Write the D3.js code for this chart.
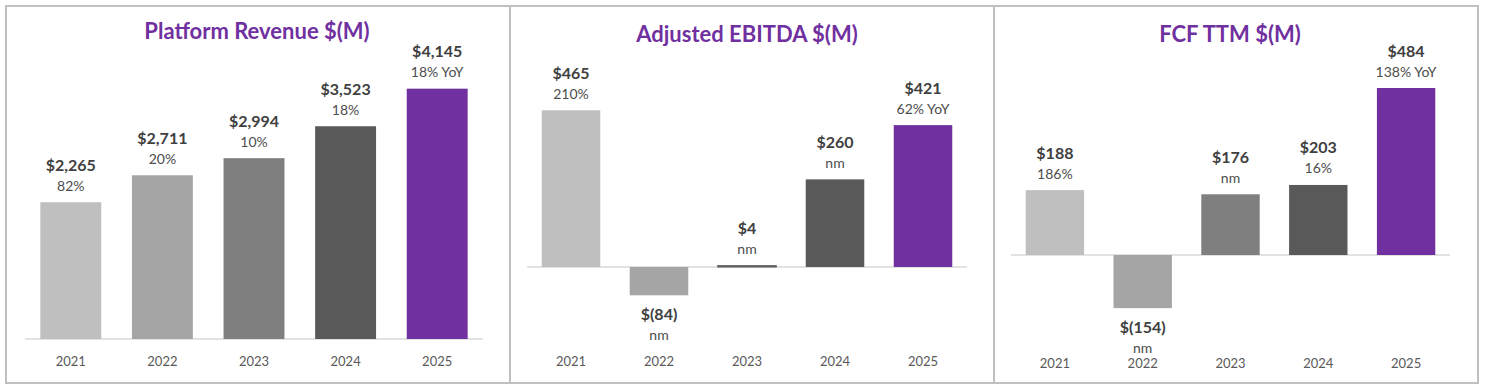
<!DOCTYPE html>
<html>
<head>
<meta charset="utf-8">
<script src="https://cdn.jsdelivr.net/npm/d3@7"></script>
<style>
  html, body { margin: 0; padding: 0; background: #fff; }
  svg { display: block; }
  text { font-family: Lato, "Open Sans", sans-serif; }
</style>
</head>
<body>
<svg id="chart" width="1485" height="392"></svg>
<script>
// ---- data ----
const years = ["2021", "2022", "2023", "2024", "2025"];
const titles = ["Platform Revenue $(M)", "Adjusted EBITDA $(M)", "FCF TTM $(M)"];
const revenueValues = [2265, 2711, 2994, 3523, 4145];
const revenueGrowth = ["82%", "20%", "10%", "18%", "18% YoY"];
const ebitdaValues = [465, -84, 4, 260, 421];
const ebitdaGrowth = ["210%", "nm", "nm", "nm", "62% YoY"];
const fcfValues = [188, -154, 176, 203, 484];
const fcfGrowth = ["186%", "nm", "nm", "16%", "138% YoY"];
const barColors = ["#BFBFBF", "#A5A5A5", "#7F7F7F", "#595959", "#7030A0"];

// ---- layout ----
const panels = [
  { title: titles[0], values: revenueValues, growth: revenueGrowth,
    titleX: 257, titleY: 30, xRange: [25, 483], domain: [0, 4600], yRange: [339, 61.2], yearY: 361 },
  { title: titles[1], values: ebitdaValues, growth: ebitdaGrowth,
    titleX: 747, titleY: 33, xRange: [527, 967], domain: [-100, 500], yRange: [300.7, 98.5], yearY: 361 },
  { title: titles[2], values: fcfValues, growth: fcfGrowth,
    titleX: 1230, titleY: 33, xRange: [1011, 1450], domain: [-200, 550], yRange: [324, 65.25], yearY: 363 }
];

const svg = d3.select("#chart");

// frame
svg.append("rect").attr("x", 6).attr("y", 6).attr("width", 1472).attr("height", 377)
  .attr("fill", "none").attr("stroke", "#C0C0C0").attr("stroke-width", 2);
[510, 994].forEach(x => svg.append("line").attr("x1", x).attr("x2", x).attr("y1", 6).attr("y2", 383)
  .attr("stroke", "#C0C0C0").attr("stroke-width", 2));

const fmt = v => v < 0 ? "$(" + d3.format(",")(-v) + ")" : "$" + d3.format(",")(v);
const color = d3.scaleOrdinal().domain(years).range(barColors);

panels.forEach(p => {
  const g = svg.append("g");
  const x = d3.scaleBand().domain(years).range(p.xRange).paddingInner(0.335).paddingOuter(0.1675);
  const y = d3.scaleLinear().domain(p.domain).range(p.yRange);
  const data = years.map((yr, i) => ({ yr, v: p.values[i], g: p.growth[i] }));

  g.append("text").attr("x", p.titleX).attr("y", p.titleY).attr("text-anchor", "middle")
    .attr("dominant-baseline", "central").attr("font-size", 22).attr("font-weight", 700)
    .attr("fill", "#7030A0").text(p.title);

  g.append("line").attr("x1", p.xRange[0]).attr("x2", p.xRange[1])
    .attr("y1", y(0)).attr("y2", y(0)).attr("stroke", "#D9D9D9").attr("stroke-width", 1.5);

  g.selectAll("rect.bar").data(data).join("rect").attr("class", "bar")
    .attr("x", d => x(d.yr)).attr("width", x.bandwidth())
    .attr("y", d => y(Math.max(0, d.v))).attr("height", d => Math.abs(y(d.v) - y(0)))
    .attr("fill", d => color(d.yr))
    .attr("stroke", d => Math.abs(y(d.v) - y(0)) < 3 ? "#595959" : "none")
    .attr("stroke-width", 1);

  // year axis
  const axis = g.append("g").attr("transform", `translate(0,${p.yearY})`)
    .call(d3.axisBottom(x).tickSize(0).tickPadding(0));
  axis.select(".domain").remove();
  axis.selectAll("text").attr("font-size", 13).attr("fill", "#595959")
    .attr("dy", "0.35em").attr("y", 0).style("font-family", "Lato, sans-serif");

  // value labels
  g.selectAll("text.val").data(data).join("text").attr("class", "val")
    .attr("x", d => x(d.yr) + x.bandwidth() / 2)
    .attr("y", d => d.v >= 0 ? y(d.v) - 38 : y(d.v) + 18)
    .attr("text-anchor", "middle").attr("dominant-baseline", "central")
    .attr("font-size", 16).attr("font-weight", 700).attr("fill", "#404040")
    .text(d => fmt(d.v));
  g.selectAll("text.gr").data(data).join("text").attr("class", "gr")
    .attr("x", d => x(d.yr) + x.bandwidth() / 2)
    .attr("y", d => d.v >= 0 ? y(d.v) - 17 : y(d.v) + 39)
    .attr("text-anchor", "middle").attr("dominant-baseline", "central")
    .attr("font-size", 14).attr("fill", "#4D4D4D")
    .text(d => d.g);
});
</script>
</body>
</html>
